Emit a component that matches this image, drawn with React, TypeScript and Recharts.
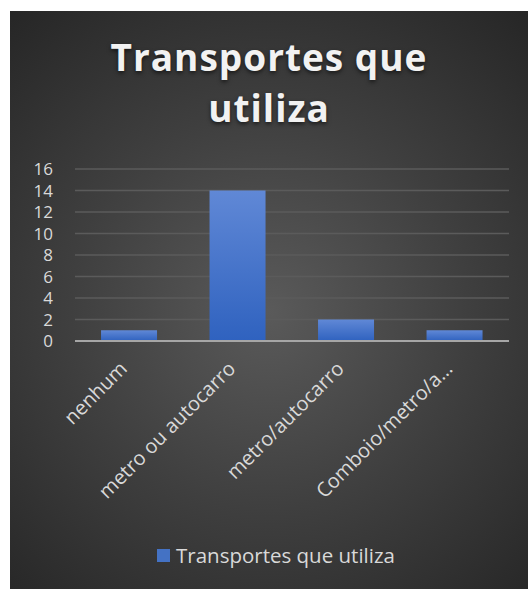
import { BarChart, Bar, XAxis, YAxis, CartesianGrid, Legend } from 'recharts';

const categories = ['nenhum', 'metro ou autocarro', 'metro/autocarro', 'Comboio/metro/a…'];
const counts = [1, 14, 2, 1];
const yTicks = [0, 2, 4, 6, 8, 10, 12, 14, 16];
const seriesName = 'Transportes que utiliza';
const chartTitle = ['Transportes que', 'utiliza'];

const data = categories.map((name, i) => ({ name, value: counts[i] }));

const FONT = '"Open Sans", sans-serif';
const LABEL = '#d9d9d9';

function XTick({ x, y, payload }: any) {
  const ax = x - 1;
  const ay = y + 27;
  return (
    <text
      x={ax}
      y={ay}
      transform={`rotate(-45, ${ax}, ${ay})`}
      textAnchor="end"
      fill={LABEL}
      fontSize={20}
      fontFamily={FONT}
    >
      {payload.value}
    </text>
  );
}

function LegendContent() {
  return (
    <div
      style={{
        display: 'flex',
        alignItems: 'center',
        paddingLeft: 147,
        fontFamily: FONT,
        fontSize: 20.5,
        color: LABEL,
      }}
    >
      <span style={{ width: 13, height: 13, background: '#4472c4', marginRight: 6, display: 'inline-block' }} />
      {seriesName}
    </div>
  );
}

export default function App() {
  return (
    <div
      style={{
        position: 'absolute',
        left: 10,
        top: 11,
        width: 518,
        height: 578,
        background: 'radial-gradient(circle at 50% 52%, #5a5a5a 0%, #3f3f3f 50%, #262626 100%)',
      }}
    >
      <div
        style={{
          position: 'absolute',
          top: 20,
          left: 0,
          width: 518,
          textAlign: 'center',
          fontFamily: FONT,
          fontWeight: 700,
          fontSize: 37,
          lineHeight: '51px',
          letterSpacing: 1,
          color: '#f2f2f2',
          textShadow: '0 2px 4px rgba(0,0,0,0.6)',
        }}
      >
        {chartTitle.map((t) => (
          <div key={t}>{t}</div>
        ))}
      </div>
      <BarChart
        width={518}
        height={578}
        data={data}
        margin={{ top: 158, right: 19, left: 0, bottom: 20 }}
        barCategoryGap="24%"
      >
        <defs>
          <linearGradient id="barGrad" x1="0" y1="0" x2="0" y2="1">
            <stop offset="0%" stopColor="#6088d6" />
            <stop offset="100%" stopColor="#2f62bf" />
          </linearGradient>
        </defs>
        <CartesianGrid vertical={false} stroke="#5b5b5b" strokeWidth={1.5} />
        <XAxis
          dataKey="name"
          interval={0}
          height={200}
          tickSize={0}
          tickLine={false}
          axisLine={{ stroke: '#a6a6a6', strokeWidth: 2 }}
          tick={<XTick />}
        />
        <YAxis
          domain={[0, 16]}
          ticks={yTicks}
          interval={0}
          width={65}
          axisLine={false}
          tickLine={false}
          tickSize={0}
          tickMargin={22}
          tick={{ fill: LABEL, fontSize: 17, fontFamily: FONT }}
        />
        <Legend verticalAlign="bottom" content={<LegendContent />} />
        <Bar dataKey="value" name={seriesName} fill="url(#barGrad)" isAnimationActive={false} />
      </BarChart>
    </div>
  );
}
